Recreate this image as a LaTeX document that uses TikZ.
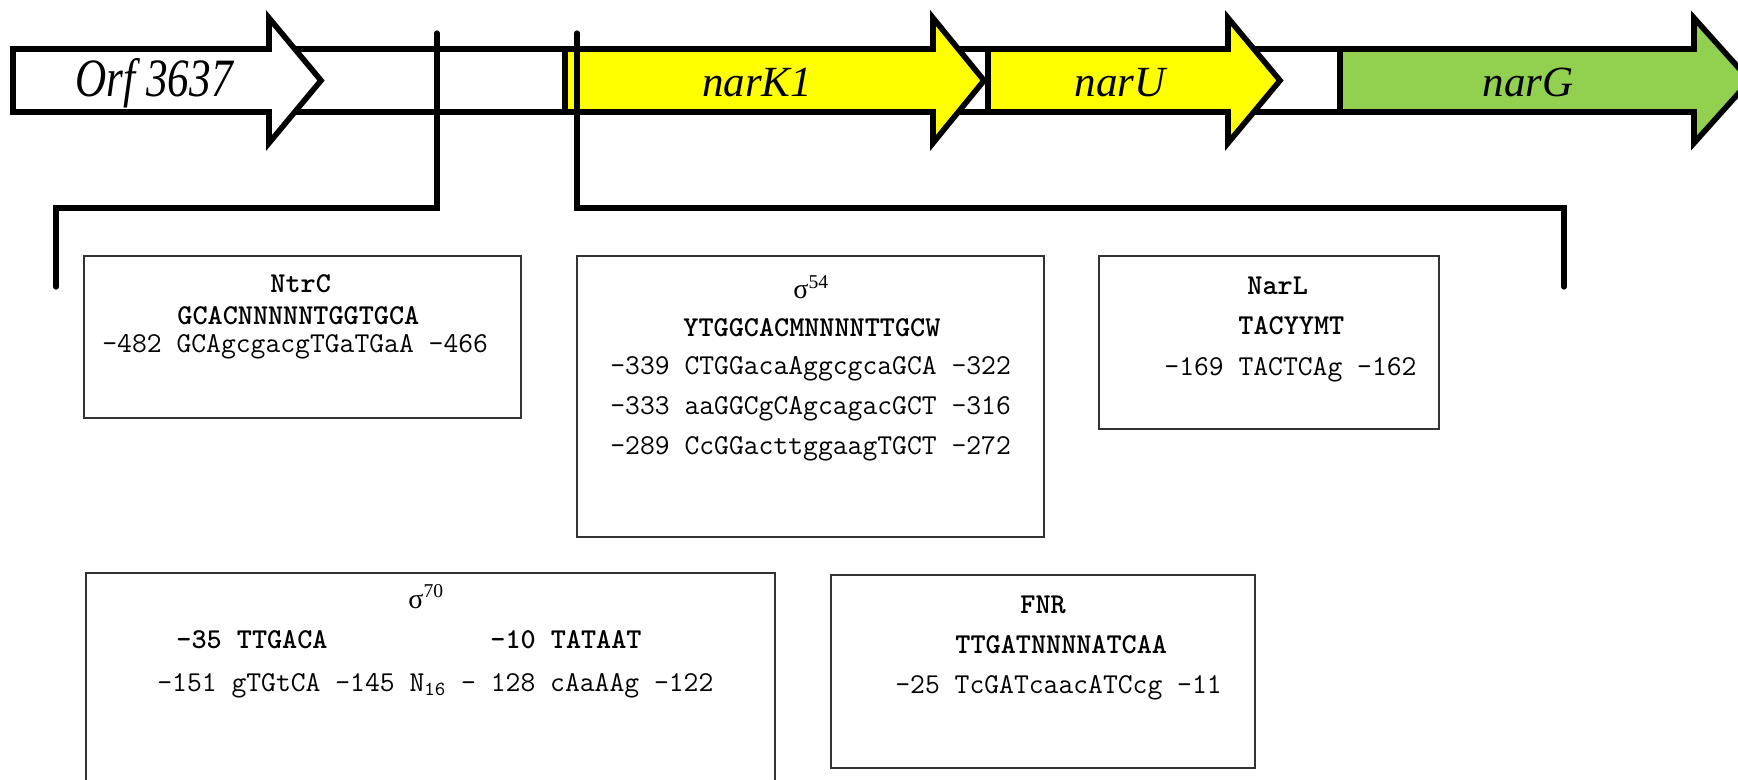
\documentclass[tikz,border=0pt]{standalone}
\usepackage{fontspec}
\usepackage{graphicx}
\setmainfont{Liberation Serif}[ItalicFont={Liberation Serif Italic}]
\usetikzlibrary{fit}
\definecolor{genyellow}{RGB}{255,255,0}
\definecolor{gengreen}{RGB}{146,208,80}
\newcommand{\mySeqFont}{\ttfamily\fontsize{14.4}{16}\selectfont}
\begin{document}
\begin{tikzpicture}[x=0.5pt,y=-0.5pt,
  gene/.style={draw=black, line width=2.8pt},
  bracketline/.style={draw=black, line width=2.6pt, line cap=round},
  box/.style={draw=black!80, line width=1pt, inner sep=0pt},
  seq/.style={anchor=base west, inner sep=0pt, font=\mySeqFont},
  cons/.style={anchor=base west, inner sep=0pt, font=\mySeqFont\bfseries},
  sig/.style={anchor=base west, inner sep=0pt, font=\rmfamily\fontsize{14}{16}\selectfont},
  genelabel/.style={anchor=base, inner sep=0pt, font=\fontsize{21.5}{24}\selectfont\itshape},
]
\useasboundingbox (0,0) rectangle (1738,780);
\clip (0,0) rectangle (1738,780);

% backbone
\draw[gene, fill=white] (13,49) rectangle (1340,112);
% narG
\draw[gene, fill=gengreen] (1340,49) -- (1694,49) -- (1694,18) -- (1750,80.5) -- (1694,143) -- (1694,112) -- (1340,112) -- cycle;
% narU
\draw[gene, fill=genyellow] (988,49) -- (1228,49) -- (1228,18) -- (1280,80.5) -- (1228,143) -- (1228,112) -- (988,112) -- cycle;
% narK1
\draw[gene, fill=genyellow] (565,49) -- (933,49) -- (933,18) -- (984,80.5) -- (933,143) -- (933,112) -- (565,112) -- cycle;
% Orf 3637
\draw[gene, fill=white] (13,49) -- (269,49) -- (269,18) -- (321,80.5) -- (269,143) -- (269,112) -- (13,112) -- cycle;

\node[genelabel] (orf) at (154,97) {\scalebox{0.8}[1]{\fontsize{27}{30}\selectfont\itshape Orf 3637}};
\node[genelabel] (nark) at (757,97) {narK1};
\node[genelabel] (naru) at (1120,97) {narU};
\node[genelabel] (narg) at (1528,97) {narG};

% brackets
\coordinate (lt) at (437,33);
\coordinate (lc) at (437,208);
\coordinate (lc2) at (56,208);
\coordinate (le) at (56,287);
\coordinate (rt) at (577,33);
\coordinate (rc) at (577,208);
\coordinate (rc2) at (1564,208);
\coordinate (re) at (1564,287);
\draw[bracketline] (lt) -- (lc) -- (lc2) -- (le);
\draw[bracketline] (rt) -- (rc) -- (rc2) -- (re);

% boxes
\node[box, fit={(84,256) (521,418)}] (ntrcbox) {};
\node[box, fit={(577,256) (1044,537)}] (s54box) {};
\node[box, fit={(1099,256) (1439,429)}] (narlbox) {};
\node[box, fit={(86,573) (775,800)}] (s70box) {};
\node[box, fit={(831,575) (1255,768)}] (fnrbox) {};

% NtrC
\node[cons] (ntrct) at (270,293) {NtrC};
\node[cons] (ntrcc) at (177,325) {GCACNNNNNTGGTGCA};
\node[seq] (ntrcs) at (102,352) {-482 GCAgcgacgTGaTGaA -466};

% sigma 54
\node[sig] (s54t) at (793,299) {σ\textsuperscript{54}};
\node[cons] (s54c) at (683,336) {YTGGCACMNNNNTTGCW};
\node[seq] (s54a) at (610,374) {-339 CTGGacaAggcgcaGCA -322};
\node[seq] (s54b) at (610,414) {-333 aaGGCgCAgcagacGCT -316};
\node[seq] (s54d) at (610,454) {-289 CcGGacttggaagTGCT -272};

% NarL
\node[cons] (narlt) at (1247,295) {NarL};
\node[cons] (narlc) at (1238,335) {TACYYMT};
\node[seq] (narls) at (1164,375) {-169 TACTCAg -162};

% sigma 70
\node[sig] (s70t) at (408,608) {σ\textsuperscript{70}};
\node[cons] (s70a) at (176,648) {-35 TTGACA};
\node[cons] (s70b) at (490,648) {-10 TATAAT};
\node[seq] (s70s) at (157,691) {-151 gTGtCA -145 N\textsubscript{16} - 128 cAaAAg -122};

% FNR
\node[cons] (fnrt) at (1020,613) {FNR};
\node[cons] (fnrc) at (955,653) {TTGATNNNNATCAA};
\node[seq] (fnrs) at (895,693) {-25 TcGATcaacATCcg -11};
\end{tikzpicture}
\end{document}
